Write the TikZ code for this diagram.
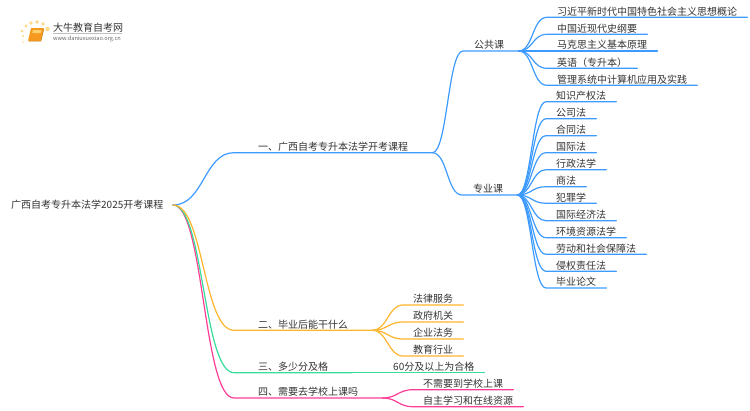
\documentclass[tikz,border=0pt]{standalone}
\usepackage{fontspec}
\setmainfont{Noto Sans CJK SC}
\definecolor{bluebranch}{HTML}{3D9BFF}
\definecolor{orangebranch}{HTML}{FFB42E}
\definecolor{greenbranch}{HTML}{35DC9A}
\definecolor{pinkbranch}{HTML}{FF3C96}
\definecolor{labeltext}{HTML}{333333}
\definecolor{logodot}{HTML}{FFD98A}
\definecolor{logobook}{HTML}{F59A1E}
\definecolor{logopage}{HTML}{FFD070}
\tikzset{
    label/.style={font=\fontsize{10}{12}\selectfont, text=labeltext, text height=8.5pt, text depth=1.5pt, inner ysep=0.5pt},
    rootnode/.style={label, inner xsep=0pt, anchor=west},
    topic/.style={label, inner xsep=24pt, anchor=south west},
    group/.style={label, inner xsep=11pt, text width=33pt, align=left, anchor=south west},
    leaf/.style={label, inner xsep=10pt, anchor=south west},
    branch/.style={line width=1.2pt, line cap=round},
}
\begin{document}
\begin{tikzpicture}[x=1pt,y=-1pt]
    \useasboundingbox (0,0) rectangle (750,410);

    % Logo
    \foreach \px/\py/\pr in {23/36/1.1,22/31/1.5,26/26/1.7,31/23/1.9,37/22/1.9,43/24/1.8,47.5/29/2.2,23/42/0.8} {
        \fill[logodot] (\px,\py) circle (\pr);
    }
    \fill[logobook, rounded corners=0.8pt] (31,28) -- (44,28) -- (41,41) -- (28,41) -- cycle;
    \fill[logopage] (33,30) -- (41.5,30) -- (40.8,33) -- (32.3,33) -- cycle;
    \draw[logobook!80!black, line width=0.5pt] (28.5,41) -- (41,41) -- (43.8,29);
    \node[anchor=west, inner sep=0pt, font=\fontsize{10}{12}\selectfont, text=labeltext] (logoname) at (53,27.5) {大牛教育自考网};
    \draw[black!25, line width=0.4pt] (53,33.5) -- (122,33.5);
    \node[anchor=west, inner sep=0pt, font=\fontsize{5.6}{7}\selectfont, text=black!60] (logourl) at (53,39) {www.daniuxuexiao.org.cn};

    % Root and first level
    \node[rootnode] (root) at (11,205) {广西自考专升本法学2025开考课程};
    \coordinate (rootend) at (173,205);
    \node[topic] (kaikao) at (234,152.7) {一、广西自考专升本法学开考课程};
    \node[topic] (biye) at (234,330.3) {二、毕业后能干什么};
    \node[topic] (jige) at (234,372.7) {三、多少分及格};
    \node[topic] (shangke) at (234,398) {四、需要去学校上课吗};

    \draw[branch, bluebranch] (rootend) .. controls +(31,0) and +(-30,0) .. (kaikao.south west) -- (kaikao.south east);
    \draw[branch, pinkbranch] (rootend) .. controls +(31,0) and +(-31,0) .. (shangke.south west) -- (shangke.south east);
    \draw[branch, greenbranch] (rootend) .. controls +(31,0) and +(-31,0) .. (jige.south west) -- (jige.south east);
    \draw[branch, orangebranch] (rootend) .. controls +(31,0) and +(-31,0) .. (biye.south west) -- (biye.south east);

    % Second level
    \node[group] (gonggong) at (463,51) {公共课};
    \node[group] (zhuanye) at (462,195) {专业课};
    \draw[branch, bluebranch] (kaikao.south east) .. controls +(15,0) and +(-15,0) .. (gonggong.south west) -- (gonggong.south east);
    \draw[branch, bluebranch] (kaikao.south east) .. controls +(15,0) and +(-15,0) .. (zhuanye.south west) -- (zhuanye.south east);

    % Public courses
    \foreach \name/\py/\txt in {
        ga/17.3/习近平新时代中国特色社会主义思想概论,
        gb/34.3/中国近现代史纲要,
        gc/51/马克思主义基本原理,
        gd/68.3/英语（专升本）,
        ge/85.3/管理系统中计算机应用及实践} {
        \node[leaf] (\name) at (547,\py) {\txt};
        \draw[branch, bluebranch] (gonggong.south east) .. controls +(15,0) and +(-15,0) .. (\name.south west) -- (\name.south east);
    }

    % Special courses
    \foreach \name/\py/\txt in {
        za/101.7/知识产权法,
        zb/118.7/公司法,
        zc/135.7/合同法,
        zd/152.7/国际法,
        ze/169.7/行政法学,
        zf/186.7/商法,
        zg/203.3/犯罪学,
        zh/220.7/国际经济法,
        zi/237.7/环境资源法学,
        zj/254.3/劳动和社会保障法,
        zk/271.3/侵权责任法,
        zl/288/毕业论文} {
        \node[leaf] (\name) at (546,\py) {\txt};
        \draw[branch, bluebranch] (zhuanye.south east) .. controls +(14,0) and +(-14,0) .. (\name.south west) -- (\name.south east);
    }

    % After graduation
    \foreach \name/\py/\txt in {
        ba/305/法律服务,
        bb/322/政府机关,
        bc/339/企业法务,
        bd/356/教育行业} {
        \node[leaf] (\name) at (403,\py) {\txt};
        \draw[branch, orangebranch] (biye.south east) .. controls +(15,0) and +(-15,0) .. (\name.south west) -- (\name.south east);
    }

    % Pass mark
    \node[leaf] (hege) at (383,372.7) {60分及以上为合格};
    \draw[branch, greenbranch] (jige.south east) -- (hege.south west) -- (hege.south east);

    % Attendance
    \foreach \name/\py/\txt in {
        sa/389.7/不需要到学校上课,
        sb/406.7/自主学习和在线资源} {
        \node[leaf] (\name) at (413,\py) {\txt};
        \draw[branch, pinkbranch] (shangke.south east) .. controls +(15,0) and +(-15,0) .. (\name.south west) -- (\name.south east);
    }
\end{tikzpicture}
\end{document}
